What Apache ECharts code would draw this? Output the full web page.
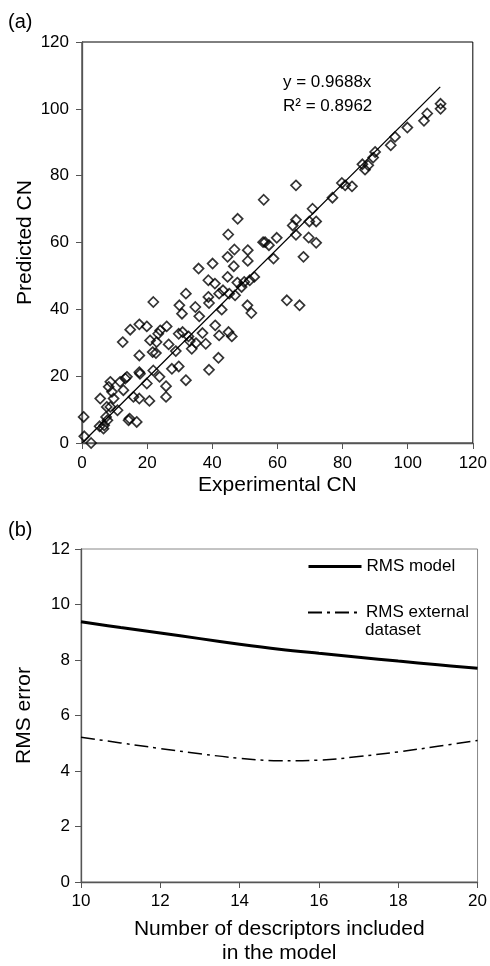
<!DOCTYPE html>
<html>
<head>
<meta charset="utf-8">
<script src="https://cdn.jsdelivr.net/npm/echarts@6.0.0/dist/echarts.min.js"></script>
<style>
  html, body { margin: 0; padding: 0; background: #fff; }
  #chart { width: 490px; height: 966px; }
</style>
</head>
<body>
<div id="chart"></div>
<script>
// (a) experimental vs predicted cetane number
const expCN = [0.5,0.7,2.8,5.6,5.4,6.6,6.8,7.4,7.8,7.6,8.2,8.7,8.7,9.2,9.7,10.9,11.7,12.7,13.3,13.8,
  12.5,14.3,14.6,14.8,15.8,16.8,17.6,17.6,17.6,17.8,17.6,19.9,19.9,20.7,20.9,21.9,21.7,21.9,22.7,22.9,
  23.4,24.0,23.8,25.8,25.8,26.0,26.6,27.6,28.8,29.7,29.7,29.9,30.7,30.9,31.9,31.9,32.7,33.1,33.7,34.8,
  35.0,35.8,36.0,37.0,38.0,39.0,38.8,38.8,39.0,40.1,40.8,40.9,42.1,41.9,42.1,42.9,43.3,44.7,44.9,44.7,
  45.0,45.2,46.0,46.8,46.6,47.0,47.7,47.8,49.0,49.8,50.9,50.9,50.8,52.0,51.5,52.9,55.8,55.6,56.2,57.4,
  58.8,59.8,62.9,64.7,65.7,65.7,65.7,66.8,68.0,69.8,69.6,70.8,71.9,71.9,76.9,79.8,80.8,82.9,86.1,86.9,
  87.9,89.4,90.0,94.8,96.1,99.9,105.0,106.0,110.1,110.1];
const predCN = [7.8,2,0,13.3,5,4.3,5.3,7.8,6.8,10.8,16.8,18.3,10.8,15.3,13.3,9.8,18.3,15.8,19.3,19.8,
  30.2,6.8,7.3,33.9,13.8,6.3,35.5,26.2,21.2,20.7,13.3,34.9,17.8,12.6,30.7,42.2,27.2,21.7,26.9,30.2,
  32.7,33.7,19.8,17.0,13.8,34.9,29.5,22.2,27.5,22.9,32.7,41.2,38.7,33.2,44.7,18.8,31.9,30.5,28.2,40.7,
  29.9,52.2,37.9,32.9,29.7,21.9,48.7,43.7,41.9,53.7,47.7,35.2,32.2,25.5,44.7,39.9,45.7,55.7,62.4,49.7,
  33.2,44.7,31.9,57.9,52.9,44.2,48.0,67.1,46.7,48.2,57.7,54.5,41.2,38.9,48.7,49.7,72.8,60.1,60.1,59.2,
  55.2,61.4,42.7,65.1,77.1,66.8,62.3,41.2,55.7,66.3,61.5,70.1,66.3,59.9,73.4,77.8,77.1,76.8,83.4,81.8,
  83.1,85.4,87.1,89.1,91.6,94.4,96.4,98.6,101.5,100.0];
const trendSlope = 0.9688;
const trendR2 = 0.8962;
const trendEnd = 110;

// (b) RMS error vs number of descriptors
const descriptorCounts = [10, 11, 12, 13, 14, 15, 16, 17, 18, 19, 20];
const rmsModel = [9.38, 9.17, 8.97, 8.77, 8.57, 8.39, 8.24, 8.10, 7.96, 7.83, 7.70];
const rmsExternal = [5.22, 5.01, 4.81, 4.62, 4.46, 4.37, 4.39, 4.52, 4.69, 4.89, 5.10];

const FONT = '"Liberation Sans", Arial, sans-serif';
const axisGray = '#555';

const chart = echarts.init(document.getElementById('chart'), null, { renderer: 'canvas' });

const tickLabel = { fontFamily: FONT, fontSize: 17, color: '#000' };
const nameStyle = { fontFamily: FONT, fontSize: 21, color: '#000' };
const legendText = { fontFamily: FONT, fontSize: 17, color: '#000' };

const option = {
  backgroundColor: '#fff',
  animation: false,
  textStyle: { fontFamily: FONT },
  grid: [
    { left: 82, right: 16, top: 42, height: 401, show: true, borderColor: '#000', borderWidth: 1 },
    { left: 81, right: 9, top: 549, height: 339, show: true, borderColor: '#888', borderWidth: 1 }
  ],
  xAxis: [
    {
      gridIndex: 0, type: 'value', min: 0, max: 120, interval: 20,
      name: 'Experimental CN', nameLocation: 'middle', nameGap: 32, nameTextStyle: nameStyle,
      nameMoveOverlap: false,
      axisLine: { lineStyle: { color: axisGray, width: 1.3 } },
      axisTick: { show: true, inside: false, length: 6, lineStyle: { color: axisGray } },
      axisLabel: Object.assign({ margin: 12 }, tickLabel),
      splitLine: { show: false }
    },
    {
      gridIndex: 1, type: 'value', min: 10, max: 20, interval: 2,
      name: 'Number of descriptors included\nin the model', nameLocation: 'middle', nameGap: 35,
      nameTextStyle: Object.assign({ lineHeight: 24 }, nameStyle),
      nameMoveOverlap: false,
      axisLine: { lineStyle: { color: axisGray, width: 1.3 } },
      axisTick: { show: true, inside: false, length: 6, lineStyle: { color: axisGray } },
      axisLabel: Object.assign({ margin: 11 }, tickLabel),
      splitLine: { show: false }
    }
  ],
  yAxis: [
    {
      gridIndex: 0, type: 'value', min: 0, max: 120, interval: 20,
      name: 'Predicted CN', nameLocation: 'middle', nameGap: 46, nameTextStyle: nameStyle,
      nameMoveOverlap: false,
      axisLine: { show: true, lineStyle: { color: axisGray, width: 1.3 } },
      axisTick: { show: true, inside: false, length: 6, lineStyle: { color: axisGray } },
      axisLabel: Object.assign({ margin: 13 }, tickLabel),
      splitLine: { show: false }
    },
    {
      gridIndex: 1, type: 'value', min: 0, max: 12, interval: 2,
      name: 'RMS error', nameLocation: 'middle', nameGap: 46, nameTextStyle: nameStyle,
      nameMoveOverlap: false,
      axisLine: { show: true, lineStyle: { color: axisGray, width: 1.3 } },
      axisTick: { show: true, inside: false, length: 6, lineStyle: { color: axisGray } },
      axisLabel: Object.assign({ margin: 11 }, tickLabel),
      splitLine: { show: false }
    }
  ],
  legend: [
    {
      data: ['RMS model'], left: 307, top: 558, padding: 0,
      itemWidth: 53, itemHeight: 14,
      itemStyle: { opacity: 0 },
      lineStyle: { width: 3 },
      textStyle: legendText
    },
    {
      data: ['RMS external dataset'], left: 307, top: 604, padding: 0,
      itemWidth: 53, itemHeight: 14,
      itemStyle: { opacity: 0 },
      formatter: function () { return 'RMS external'; },
      textStyle: legendText
    }
  ],
  graphic: [
    { type: 'text', left: 8, top: 12, style: { text: '(a)', font: '20px ' + FONT, fill: '#000' } },
    { type: 'text', left: 8, top: 520, style: { text: '(b)', font: '20px ' + FONT, fill: '#000' } },
    { type: 'text', left: 283, top: 74, style: { text: 'y = ' + trendSlope + 'x', font: '17px ' + FONT, fill: '#000' } },
    { type: 'text', left: 283, top: 98, style: { text: 'R\u00B2 = ' + trendR2, font: '17px ' + FONT, fill: '#000' } },
    { type: 'text', left: 365, top: 622, style: { text: 'dataset', font: '17px ' + FONT, fill: '#000' } }
  ],
  series: [
    {
      type: 'scatter', xAxisIndex: 0, yAxisIndex: 0, clip: false,
      data: expCN.map((x, i) => [x, predCN[i]]),
      symbol: 'diamond', symbolSize: 10,
      itemStyle: { color: 'rgba(0,0,0,0)', borderColor: '#000', borderWidth: 1.7 },
      z: 3
    },
    {
      type: 'line', xAxisIndex: 0, yAxisIndex: 0,
      data: [[0, 0], [trendEnd, trendSlope * trendEnd]],
      symbol: 'none', lineStyle: { color: '#000', width: 1.3 },
      silent: true, z: 2
    },
    {
      name: 'RMS model', type: 'line', xAxisIndex: 1, yAxisIndex: 1,
      data: descriptorCounts.map((x, i) => [x, rmsModel[i]]),
      smooth: 0.4, symbol: 'none',
      lineStyle: { color: '#000', width: 3 },
      itemStyle: { color: '#000' }
    },
    {
      name: 'RMS external dataset', type: 'line', xAxisIndex: 1, yAxisIndex: 1,
      data: descriptorCounts.map((x, i) => [x, rmsExternal[i]]),
      smooth: 0.4, symbol: 'none',
      lineStyle: { color: '#000', width: 1.5, type: [14, 5, 3, 5] },
      itemStyle: { color: '#000' }
    }
  ]
};

chart.setOption(option);
</script>
</body>
</html>
